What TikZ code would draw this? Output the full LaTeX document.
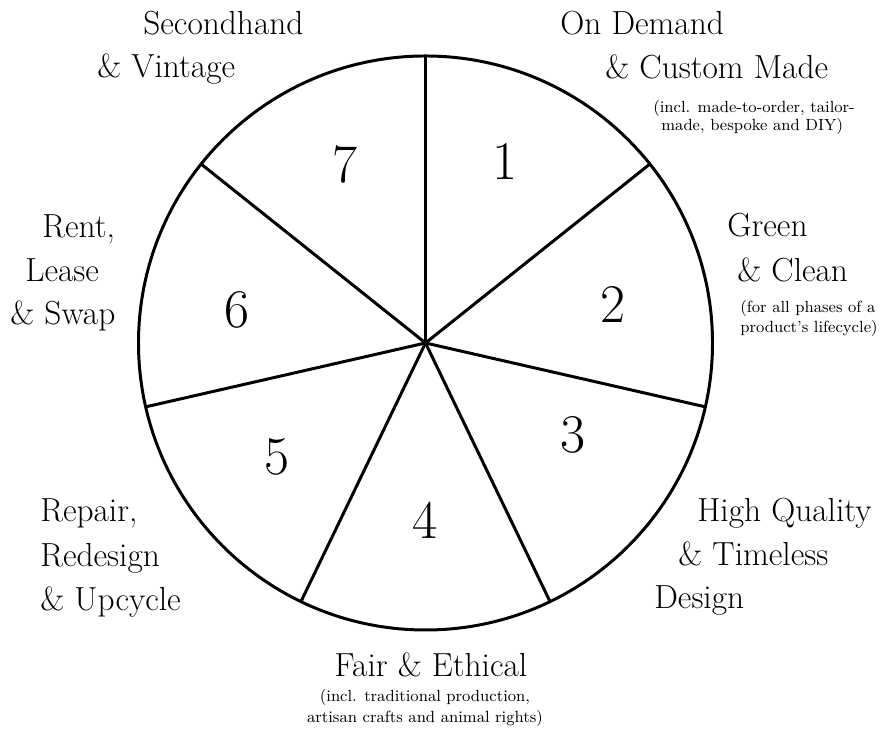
\documentclass[tikz,border=0pt]{standalone}
\usepackage{tikz}
\usetikzlibrary{positioning}

\begin{document}
\begin{tikzpicture}[x=0.02cm, y=0.02cm,
    spoke/.style={line width=1.7pt, black},
    lbl/.style={anchor=base west, inner sep=0pt, font=\fontsize{19}{23}\selectfont},
    lblc/.style={lbl, anchor=base},
    sub/.style={anchor=base west, inner sep=0pt, font=\fontsize{9.2}{11}\selectfont},
    subc/.style={sub, anchor=base},
    num/.style={inner sep=0pt, font=\fontsize{31}{36}\selectfont}]

    \useasboundingbox (0,0) rectangle (889,732);

    % Wheel
    \coordinate (c) at (425.5,389);
    \draw[spoke] (c) circle (287);
    \foreach \i in {0,...,6}{
      \path (c) ++({90-\i*360/7}:287) coordinate (s\i);
      \draw[spoke] (c) -- (s\i);
    }

    % Sector numbers
    \node[num] (n1) at (505,570) {1};
    \node[num] (n2) at (613,427) {2};
    \node[num] (n3) at (573,297) {3};
    \node[num] (n4) at (425,212) {4};
    \node[num] (n5) at (277,275) {5};
    \node[num] (n6) at (237,422) {6};
    \node[num] (n7) at (345,567) {7};

    % 1
    \node[lbl] (on) at (560,697) {On Demand};
    \node[lbl] (cm) at (605,653) {\& Custom Made};
    \node[sub] (cma) at (653,619) {(incl. made-to-order, tailor-};
    \node[sub] (cmb) at (661,601) {made, bespoke and DIY)};

    % 2
    \node[lbl] (gr) at (727,495) {Green};
    \node[lbl] (cl) at (737,450) {\& Clean};
    \node[sub] (cla) at (740,419) {(for all phases of a};
    \node[sub] (clb) at (740,399) {product's lifecycle)};

    % 3
    \node[lbl] (hq) at (697,210) {High Quality};
    \node[lbl] (tl) at (678,166) {\& Timeless};
    \node[lbl] (de) at (654,123) {Design};

    % 4
    \node[lblc] (fe) at (431,55) {Fair \& Ethical};
    \node[subc] (fea) at (425,30) {(incl. traditional production,};
    \node[subc] (feb) at (425,9) {artisan crafts and animal rights)};

    % 5
    \node[lbl] (rp) at (40,210) {Repair,};
    \node[lbl] (rd) at (40,165) {Redesign};
    \node[lbl] (uc) at (40,121) {\& Upcycle};

    % 6
    \node[lbl] (re) at (42,494) {Rent,};
    \node[lbl] (le) at (25,450) {Lease};
    \node[lbl] (sw) at (10,407) {\& Swap};

    % 7
    \node[lbl] (sh) at (143,697) {Secondhand};
    \node[lbl] (vi) at (97,654) {\& Vintage};

\end{tikzpicture}
\end{document}
